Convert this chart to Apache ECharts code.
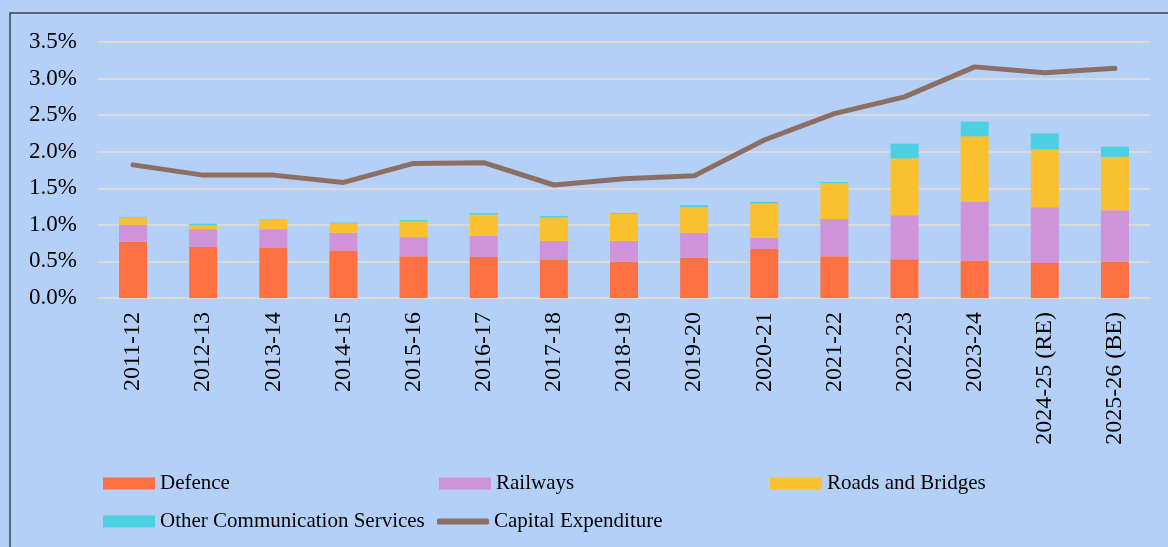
<!DOCTYPE html>
<html>
<head>
<meta charset="utf-8">
<script src="https://cdn.jsdelivr.net/npm/echarts@6/dist/echarts.min.js"></script>
<style>
html,body{margin:0;padding:0;background:#b5d0f6;}
#chart{width:1168px;height:547px;}
</style>
</head>
<body>
<div id="chart"></div>
<script>
const categories = ['2011-12','2012-13','2013-14','2014-15','2015-16','2016-17','2017-18','2018-19','2019-20','2020-21','2021-22','2022-23','2023-24','2024-25 (RE)','2025-26 (BE)'];
const defence  = [0.77,0.70,0.69,0.65,0.57,0.56,0.52,0.50,0.55,0.67,0.57,0.53,0.51,0.48,0.50];
const railways = [0.23,0.24,0.25,0.24,0.26,0.29,0.26,0.28,0.34,0.155,0.51,0.60,0.81,0.76,0.70];
const roads    = [0.10,0.05,0.13,0.13,0.22,0.29,0.32,0.37,0.35,0.47,0.49,0.78,0.89,0.79,0.73];
const otherComm= [0.01,0.025,0.005,0.01,0.015,0.02,0.02,0.01,0.03,0.02,0.015,0.20,0.20,0.22,0.14];
const capex    = [1.82,1.68,1.68,1.58,1.84,1.85,1.545,1.63,1.67,2.16,2.52,2.75,3.16,3.08,3.14];
const yTicks = {min:0, max:3.5, interval:0.5};

const FONT = '"Liberation Serif","Times New Roman",serif';
const chart = echarts.init(document.getElementById('chart'));
const legendText = {fontFamily: FONT, fontSize: 21, color: '#000'};
function mkLegend(name, left, top, icon, h){
  return {data:[name], left:left, top:top, itemWidth:52, itemHeight:h, itemGap:0,
    icon: icon, textStyle: legendText, padding:0};
}
chart.setOption({
  backgroundColor: '#b5d0f6',
  animation: false,
  graphic: [{type:'rect', shape:{x:10, y:13, width:1300, height:700},
    style:{fill:'none', stroke:'#3b4150', lineWidth:1.5}}],
  grid: {left: 98, right: 18, top: 42, bottom: 249},
  legend: [
    mkLegend('Defence', 103, 473, 'rect', 12),
    mkLegend('Railways', 439, 473, 'rect', 12),
    mkLegend('Roads and Bridges', 770, 473, 'rect', 12),
    mkLegend('Other Communication Services', 103, 511, 'rect', 12),
    mkLegend('Capital Expenditure', 437, 511, 'roundRect', 6)
  ],
  xAxis: {
    type: 'category', data: categories,
    axisLine: {show: true, lineStyle: {color: '#d9d9d9', width: 2}},
    axisTick: {show: false},
    axisLabel: {rotate: 90, margin: 14, fontFamily: FONT, fontSize: 24, color: '#000', interval: 0}
  },
  yAxis: {
    type: 'value', min: yTicks.min, max: yTicks.max, interval: yTicks.interval,
    axisLine: {show: false}, axisTick: {show: false},
    splitLine: {lineStyle: {color: '#d9d9d9', width: 2}},
    axisLabel: {formatter: v => v.toFixed(1) + '%', fontFamily: FONT, fontSize: 23, color: '#000', margin: 21, padding: [4,0,0,0]}
  },
  series: [
    {name:'Defence', type:'bar', stack:'s', data: defence, barWidth: 28, itemStyle:{color:'#ff7043'}},
    {name:'Railways', type:'bar', stack:'s', data: railways, barWidth: 28, itemStyle:{color:'#ce93d8'}},
    {name:'Roads and Bridges', type:'bar', stack:'s', data: roads, barWidth: 28, itemStyle:{color:'#fbc02d'}},
    {name:'Other Communication Services', type:'bar', stack:'s', data: otherComm, barWidth: 28, itemStyle:{color:'#4dd0e1'}},
    {name:'Capital Expenditure', type:'line', data: capex, symbol:'none',
      lineStyle:{color:'#8d6e63', width:5, cap:'round', join:'round'}, itemStyle:{color:'#8d6e63'}}
  ]
});
</script>
</body>
</html>
